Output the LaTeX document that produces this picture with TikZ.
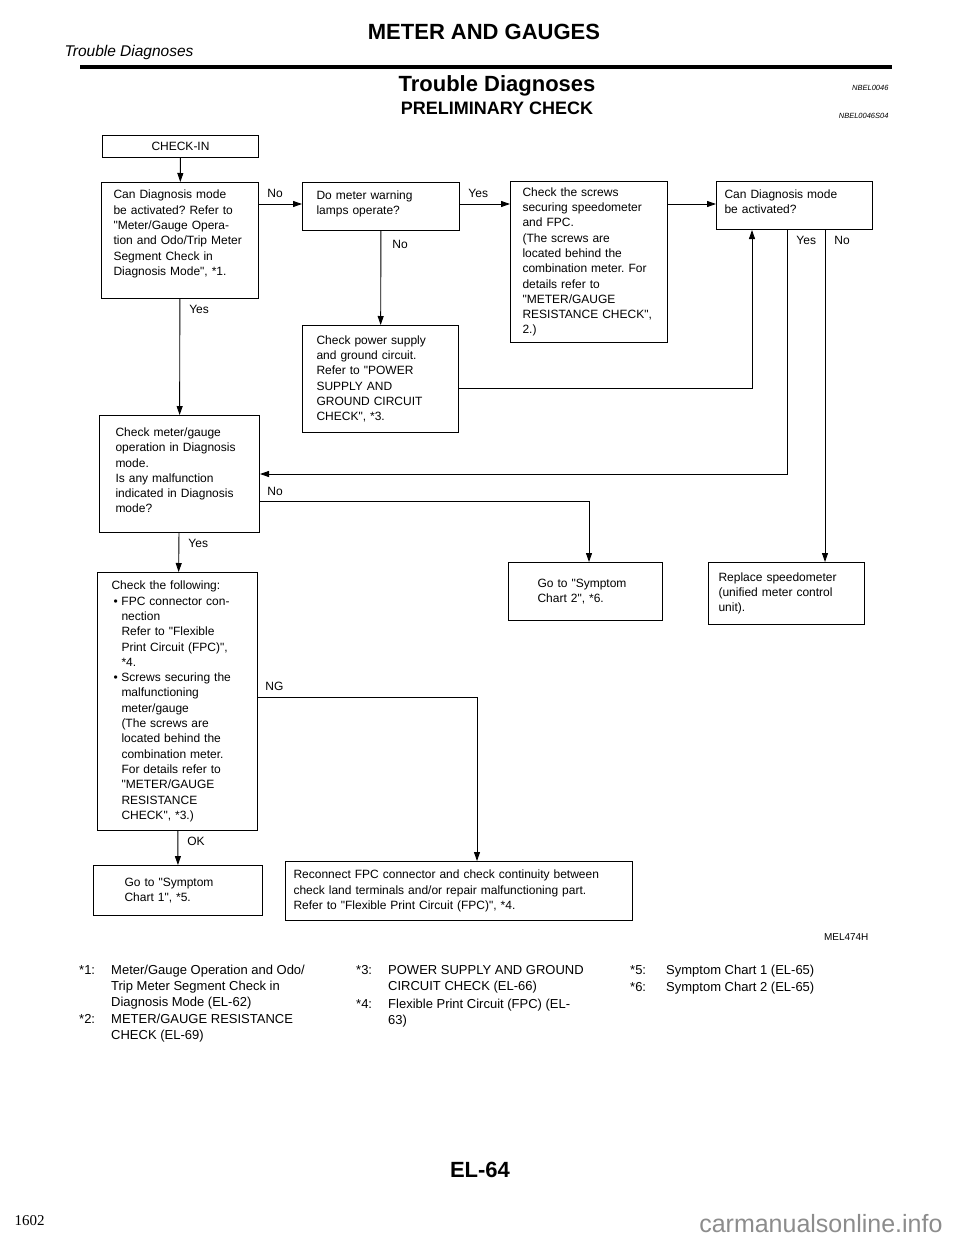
\documentclass[tikz,border=0pt]{standalone}
\usepackage{fontspec}
\setmainfont{Liberation Sans}[Ligatures=TeXOff]
\newfontfamily\pagenumfont{Liberation Serif}
\usetikzlibrary{arrows.meta,positioning}
\frenchspacing
\newcommand{\boxfont}{\fontsize{12}{15.3}\selectfont}
\newcommand{\notefont}{\fontsize{13}{16}\selectfont}
\newcommand{\bul}{\makebox[10pt][l]{\,\textbullet}}
\newcommand{\ind}{\hspace*{10pt}}
\tikzset{
    every node/.append style={font=\boxfont},
    stepbox/.style={draw, line width=1pt, rectangle, anchor=north west, inner xsep=12pt, inner ysep=0pt, align=left},
    arr/.style={-{Triangle[length=9pt,width=6pt]}, line width=0.9pt},
    lblh/.style={anchor=base west, inner sep=0pt, xshift=8pt, yshift=7pt},
    lblv/.style={anchor=base west, inner sep=0pt, xshift=9pt, yshift=-14pt},
    fnote/.style={anchor=north west, inner sep=0pt, font=\notefont}}

\begin{document}
\begin{tikzpicture}[x=1pt,y=-1pt]
    \fill[white] (0,0) rectangle (960,1242);
    \useasboundingbox (0,0) rectangle (960,1242);

    % page head
    \node[font=\bfseries\fontsize{22}{24}\selectfont] (head) at (484,32) {METER AND GAUGES};
    \node[anchor=west, font=\itshape\fontsize{15.5}{17}\selectfont] (section) at (61,52) {Trouble Diagnoses};
    \draw[line width=3.5pt] (80,67) -- (892,67);
    \node[font=\bfseries\fontsize{22}{24}\selectfont] (title) at (497,86) {Trouble Diagnoses};
    \node[font=\bfseries\fontsize{18}{20}\selectfont] (subtitle) at (497,108) {PRELIMINARY CHECK};
    \node[anchor=east, font=\itshape\fontsize{7.5}{8}\selectfont] (ref1) at (892,88) {NBEL0046};
    \node[anchor=east, font=\itshape\fontsize{7.5}{8}\selectfont] (ref2) at (892,116) {NBEL0046S04};

    % boxes
    \node[stepbox, text width=132pt, minimum height=22pt, align=center] (checkin) at (102,135) {CHECK-IN};
    \node[stepbox, text width=133pt, minimum height=116pt] (qA) at (101,182)
        {Can Diagnosis mode\\ be activated? Refer to\\ "Meter/Gauge Opera-\\ tion and Odo/Trip Meter\\ Segment Check in\\ Diagnosis Mode", *1.\\ \mbox{}};
    \node[stepbox, minimum height=48pt, inner xsep=14pt, text width=129pt] (qB) at (302,182)
        {Do meter warning\\ lamps operate?\\[-8pt]\mbox{}};
    \node[stepbox, text width=133pt, minimum height=161pt] (qC) at (510,181)
        {Check the screws\\ securing speedometer\\ and FPC.\\ (The screws are\\ located behind the\\ combination meter. For\\ details refer to\\ "METER/GAUGE\\ RESISTANCE CHECK",\\ *2.)};
    \node[stepbox, inner xsep=8pt, text width=140pt, minimum height=48pt] (qD) at (716,181)
        {Can Diagnosis mode\\ be activated?\\[-8pt]\mbox{}};
    \node[stepbox, inner xsep=14pt, text width=128pt, minimum height=107pt] (qE) at (302,325)
        {Check power supply\\ and ground circuit.\\ Refer to "POWER\\ SUPPLY AND\\ GROUND CIRCUIT\\ CHECK", *3.};
    \node[stepbox, inner xsep=16pt, text width=128pt, minimum height=117pt] (qF) at (99,415)
        {Check meter/gauge\\ operation in Diagnosis\\ mode.\\ Is any malfunction\\ indicated in Diagnosis\\ mode?\\[-8pt]\mbox{}};
    \node[stepbox, inner xsep=14pt, text width=132pt, minimum height=258pt] (qG) at (97,572)
        {Check the following:\\ \bul FPC connector con-\\ \ind nection\\ \ind Refer to "Flexible\\ \ind Print Circuit (FPC)",\\ \ind *4.\\
         \bul Screws securing the\\ \ind malfunctioning\\ \ind meter/gauge\\ \ind (The screws are\\ \ind located behind the\\ \ind combination meter.\\
         \ind For details refer to\\ \ind "METER/GAUGE\\ \ind RESISTANCE\\ \ind CHECK", *3.)};
    \node[stepbox, inner xsep=29pt, text width=96pt, minimum height=58pt] (qH) at (508,562)
        {Go to "Symptom\\ Chart 2", *6.};
    \node[stepbox, inner xsep=10pt, text width=136pt, minimum height=62pt] (qI) at (708,562)
        {Replace speedometer\\ (unified meter control\\ unit).};
    \node[stepbox, inner xsep=31pt, text width=107pt, minimum height=50pt] (qJ) at (93,865)
        {Go to "Symptom\\ Chart 1", *5.};
    \node[stepbox, inner xsep=8pt, text width=331pt, minimum height=59pt] (qK) at (285,861)
        {Reconnect FPC connector and check continuity between\\ check land terminals and/or repair malfunctioning part.\\ Refer to "Flexible Print Circuit (FPC)", *4.};

    % connectors
    \coordinate (row1) at (0,204);
    \coordinate (jE) at (752,388);
    \coordinate (dyes) at (787,474);
    \coordinate (dno) at (825,300);
    \coordinate (fno) at (589,501);
    \coordinate (gng) at (477,697);

    \draw[arr] (checkin) -- (qA);
    \draw[arr] (qA.east |- row1) -- node[lblh, pos=0] {No} (qB.west |- row1);
    \draw[arr] (qB.east |- row1) -- node[lblh, pos=0] {Yes} (qC.west |- row1);
    \draw[arr] (qC.east |- row1) -- (qD.west |- row1);
    \draw[arr] (qB) -- node[lblv, pos=0, xshift=2pt, yshift=-3pt] {No} (qE);
    \draw[arr] (qE.east |- jE) -- (jE) -- (jE |- qD.south);
    \draw[arr] (dyes |- qD.south) -- node[lblv, pos=0] {Yes} (dyes) -- (qF.east |- dyes);
    \draw[arr] (dno |- qD.south) -- node[lblv, pos=0] {No} (dno |- qI.north);
    \draw[arr] (qA) -- node[lblv, pos=0] {Yes} (qF);
    \draw[arr] (qF.east |- fno) -- node[lblh, pos=0, xshift=-1pt, yshift=-1pt] {No} (fno) -- (fno |- qH.north);
    \draw[arr] (qF) -- node[lblv, pos=0] {Yes} (qG);
    \draw[arr] (qG.east |- gng) -- node[lblh, pos=0, xshift=-1pt] {NG} (gng) -- (gng |- qK.north);
    \draw[arr] (qG) -- node[lblv, pos=0] {OK} (qJ);

    \node[anchor=east, font=\fontsize{10}{12}\selectfont] (figid) at (872,937) {MEL474H};

    % notes
    \node[fnote] (fn1) at (79,963) {\begin{tabular}{@{}p{32pt}@{}l@{}} *1: & Meter/Gauge Operation and Odo/\\ & Trip Meter Segment Check in\\ & Diagnosis Mode (EL-62)\end{tabular}};
    \node[fnote] (fn2) at (79,1012) {\begin{tabular}{@{}p{32pt}@{}l@{}} *2: & METER/GAUGE RESISTANCE\\ & CHECK (EL-69)\end{tabular}};
    \node[fnote] (fn3) at (356,963) {\begin{tabular}{@{}p{32pt}@{}l@{}} *3: & POWER SUPPLY AND GROUND\\ & CIRCUIT CHECK (EL-66)\end{tabular}};
    \node[fnote] (fn4) at (356,997) {\begin{tabular}{@{}p{32pt}@{}l@{}} *4: & Flexible Print Circuit (FPC) (EL-\\ & 63)\end{tabular}};
    \node[fnote] (fn5) at (630,963) {\begin{tabular}{@{}p{36pt}@{}l@{}} *5: & Symptom Chart 1 (EL-65)\end{tabular}};
    \node[fnote] (fn6) at (630,980) {\begin{tabular}{@{}p{36pt}@{}l@{}} *6: & Symptom Chart 2 (EL-65)\end{tabular}};

    % page foot
    \node[font=\bfseries\fontsize{22}{24}\selectfont] (pageno) at (480,1170) {EL-64};
    \node[anchor=west, font=\pagenumfont\fontsize{15}{17}\selectfont] (sheet) at (11,1221) {1602};
    \node[anchor=east, text=black!45, font=\fontsize{25}{27}\selectfont] (mark) at (946,1224) {carmanualsonline.info};
\end{tikzpicture}
\end{document}
